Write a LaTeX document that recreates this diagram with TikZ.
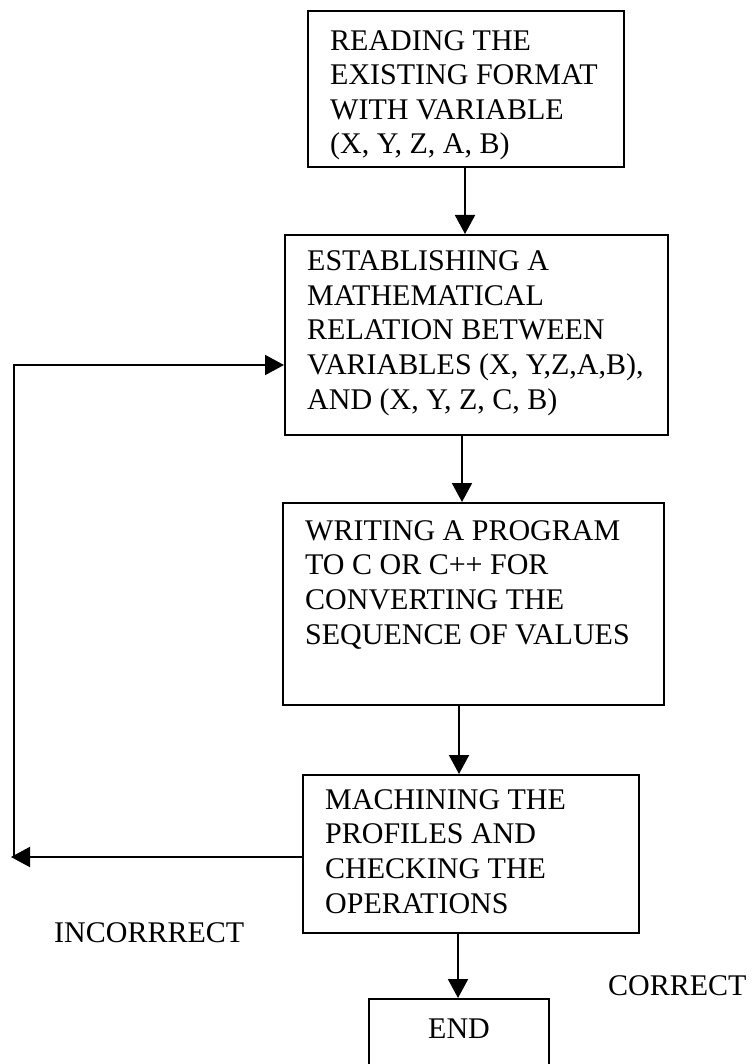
\documentclass[tikz,border=0pt]{standalone}
\usepackage{fontspec}
\setmainfont{Liberation Serif}
\usetikzlibrary{arrows.meta}
\begin{document}
\begin{tikzpicture}[x=1pt,y=1pt,
  stepbox/.style={draw,line width=2pt,inner sep=0pt,anchor=north west},
  txt/.style={inner sep=0pt,anchor=base west,align=left,font=\fontsize{30}{34.6}\selectfont},
  lbl/.style={inner sep=0pt,anchor=base west,font=\fontsize{30}{34.6}\selectfont},
  arr/.style={line width=2pt,-{Triangle[length=19pt,width=20pt]}}]
\useasboundingbox (0,0) rectangle (752,-1064);
\clip (0,0) rectangle (752,-1064);
% boxes
\node[stepbox,minimum width=316pt,minimum height=156pt] (b1) at (307,-10) {};
\node[stepbox,minimum width=383pt,minimum height=200pt] (b2) at (284,-234) {};
\node[stepbox,minimum width=381pt,minimum height=202pt] (b3) at (282,-502) {};
\node[stepbox,minimum width=336pt,minimum height=158pt] (b4) at (302,-774) {};
\node[stepbox,minimum width=180pt,minimum height=90pt] (b5) at (368,-998) {};
% texts (anchored at the baseline of the last line)
\node[txt] (t1) at (330,-154) {READING THE\\EXISTING FORMAT\\WITH VARIABLE\\(X, Y, Z, A, B)};
\node[txt] (t2) at (307,-409) {ESTABLISHING A\\MATHEMATICAL\\RELATION BETWEEN\\VARIABLES (X, Y,Z,A,B),\\AND (X, Y, Z, C, B)};
\node[txt] (t3) at (305,-644) {WRITING A PROGRAM\\TO C OR C++ FOR\\CONVERTING THE\\SEQUENCE OF VALUES};
\node[txt] (t4) at (325,-913) {MACHINING THE\\PROFILES AND\\CHECKING THE\\OPERATIONS};
\node[inner sep=0pt,anchor=base,font=\fontsize{30}{34.6}\selectfont] (t5) at (459,-1038) {END};
\node[lbl] (inc) at (54,-942) {INCORRRECT};
\node[lbl] (cor) at (608,-995) {CORRECT};
% connector coordinates
\coordinate (c12) at (465,0);
\coordinate (c23) at (462,0);
\coordinate (c34) at (459,0);
\coordinate (c45) at (458,0);
\coordinate (lt) at (14,-365);
\coordinate (lb) at (14,-857);
\coordinate (ltip) at (11,-857);
% connectors
\draw[arr] (b1.south -| c12) -- (b2.north -| c12);
\draw[arr] (b2.south -| c23) -- (b3.north -| c23);
\draw[arr] (b3.south -| c34) -- (b4.north -| c34);
\draw[arr] (b4.south -| c45) -- (b5.north -| c45);
\draw[arr] (b4.west |- ltip) -- (ltip);
\draw[arr] (lb) -- (lt) -- (b2.west |- lt);
\end{tikzpicture}
\end{document}
